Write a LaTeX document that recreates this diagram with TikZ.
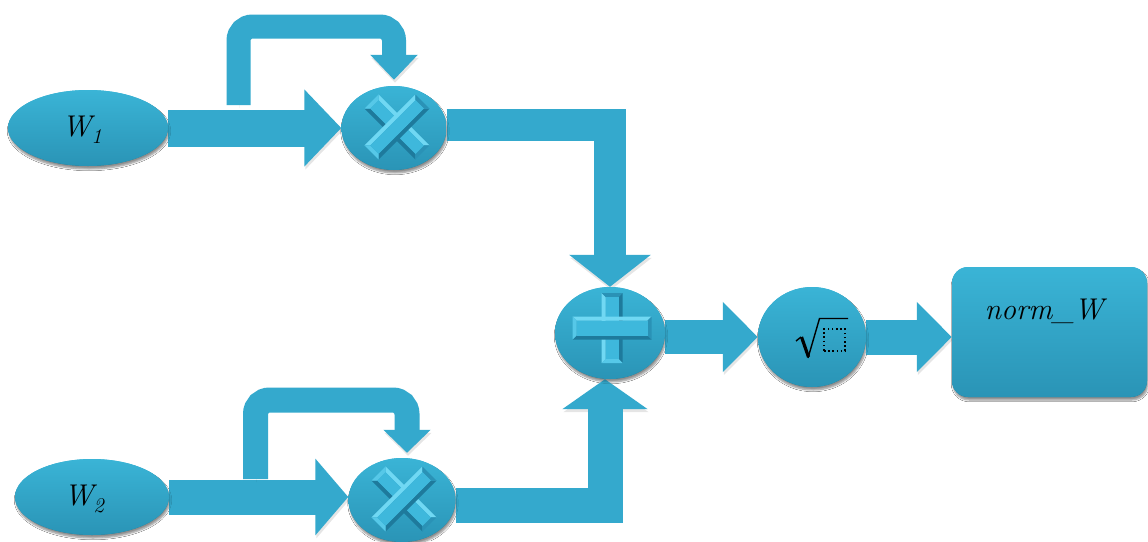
\documentclass[tikz,border=0pt]{standalone}
\usepackage{fontspec}
\usetikzlibrary{shapes.geometric,shadows.blur,arrows.meta}

\definecolor{flowblue}{RGB}{52,169,205}
\definecolor{nodetop}{RGB}{58,180,214}
\definecolor{nodebot}{RGB}{42,148,182}
\definecolor{glyphface}{RGB}{62,184,220}
\definecolor{glyphlite}{RGB}{112,216,243}
\definecolor{glyphedge}{RGB}{86,200,232}
\definecolor{glyphshade}{RGB}{42,146,182}
\definecolor{glyphdark}{RGB}{30,122,156}

\newcommand{\subidx}[1]{\raisebox{-7pt}{\fontsize{21}{24}\selectfont #1}}
% bevelled bar centred at the origin: half length, half height, bevel width
\newcommand{\bevelbar}[3]{%
  \fill[glyphlite] (-#1,-#2) -- (#1,-#2) -- (#1-#3,-#2+#3) -- (-#1+#3,-#2+#3) -- cycle;
  \fill[glyphdark] (-#1,#2) -- (#1,#2) -- (#1-#3,#2-#3) -- (-#1+#3,#2-#3) -- cycle;
  \fill[glyphedge] (-#1,-#2) -- (-#1+#3,-#2+#3) -- (-#1+#3,#2-#3) -- (-#1,#2) -- cycle;
  \fill[glyphshade] (#1,-#2) -- (#1-#3,-#2+#3) -- (#1-#3,#2-#3) -- (#1,#2) -- cycle;
  \fill[glyphface] (-#1+#3,-#2+#3) rectangle (#1-#3,#2-#3);
}

\tikzset{
  nodebody/.style={top color=nodetop, bottom color=nodebot, inner sep=0pt,
    blur shadow={shadow xshift=1pt, shadow yshift=-3pt, shadow opacity=25, shadow blur steps=6}},
  ovalnode/.style={nodebody, ellipse},
  boxnode/.style={nodebody, rectangle, rounded corners=16pt},
  band/.style={draw=flowblue,
    preaction={draw=black, opacity=0.10, transform canvas={shift={(1pt,-3pt)}}}},
  lbl/.style={font=\fontsize{30}{36}\selectfont\itshape, text=black, inner sep=0pt},
  pics/timesmark/.style={code={
    \begin{scope}[rotate=-45]\bevelbar{36}{10}{4}\end{scope}
    \begin{scope}[rotate=45]\bevelbar{36}{10}{4}\end{scope}
  }},
  pics/plusmark/.style={code={
    \begin{scope}[rotate=90]\bevelbar{35}{10.5}{4}\end{scope}
    \bevelbar{39.5}{11.5}{4}
  }}
}

\begin{document}
\begin{tikzpicture}[x=1pt, y=-1pt]
  \fill[white] (0,0) rectangle (1148,541);
  \useasboundingbox (0,0) rectangle (1148,541);

  % operand ovals
  \node[ovalnode, minimum width=160pt, minimum height=76pt] (w1) at (88,128) {};
  \node[ovalnode, minimum width=154pt, minimum height=76pt] (w2) at (92,497) {};
  % operators
  \node[ovalnode, minimum width=105pt, minimum height=84pt] (m1) at (394,128) {};
  \node[ovalnode, minimum width=107pt, minimum height=84pt] (m2) at (402,500) {};
  \node[ovalnode, minimum width=110pt, minimum height=92pt] (plus) at (610,333) {};
  \node[ovalnode, minimum width=108pt, minimum height=100pt] (sq) at (812,337) {};
  % result
  \node[boxnode, minimum width=195pt, minimum height=130pt] (out) at (1049.5,332) {};

  % free ends of the feedback arrows
  \coordinate (fb1) at (238.5,105);
  \coordinate (fb1top) at (0,26.5);
  \coordinate (fb2) at (255.5,479);
  \coordinate (fb2top) at (0,400);

  % inputs into the multipliers
  \draw[band, line width=37pt, -{Triangle[width=75pt,length=37pt]}] (w1.east) -- (m1.west |- w1.east);
  \draw[band, line width=35pt, -{Triangle[width=75pt,length=33pt]}] (w2.east) -- (m2.west |- w2.east);
  % squaring loops
  \draw[band, line width=24pt, rounded corners=14pt, -{Triangle[width=46pt,length=25pt]}, shorten >=6pt]
    (fb1) |- (m1.north |- fb1top) -- (m1.north);
  \draw[band, line width=25pt, rounded corners=14pt, -{Triangle[width=46pt,length=23pt]}, shorten >=5pt]
    (fb2) |- ([xshift=5pt]m2.north |- fb2top) -- ([xshift=5pt]m2.north);
  % products into the adder
  \draw[band, line width=32pt, -{Triangle[width=80pt,length=32pt]}] ([yshift=3pt]m1.east) -| (plus.north);
  \draw[band, line width=35pt, -{Triangle[width=84pt,length=30pt]}] ([yshift=-5pt]m2.east) -| ([xshift=-5pt]plus.south);
  % sum into the root, root into the result
  \draw[band, line width=34pt, -{Triangle[width=68pt,length=35pt]}] (plus.east |- sq.west) -- (sq.west);
  \draw[band, line width=35pt, -{Triangle[width=68pt,length=35pt]}] (sq.east) -- (out.west |- sq.east);

  % redraw node bodies above the arrow ends
  \node[ovalnode, minimum width=105pt, minimum height=84pt] at (m1) {};
  \node[ovalnode, minimum width=107pt, minimum height=84pt] at (m2) {};
  \node[ovalnode, minimum width=110pt, minimum height=92pt] at (plus) {};
  \node[ovalnode, minimum width=108pt, minimum height=100pt] at (sq) {};
  \node[ovalnode, minimum width=160pt, minimum height=76pt] at (w1) {};
  \node[ovalnode, minimum width=154pt, minimum height=76pt] at (w2) {};
  \node[boxnode, minimum width=195pt, minimum height=130pt] at (out) {};

  % operator glyphs
  \pic at (397,127) {timesmark};
  \pic at (404,499) {timesmark};
  \pic at (612,328) {plusmark};

  % radical sign with a dotted placeholder
  \draw[line width=1.4pt] (796,341) -- (801,337);
  \draw[line width=3.2pt] (801.5,337) -- (808.5,357);
  \draw[line width=1.4pt] (808,358) -- (819.5,318.5) -- (848,318.5);
  \node[draw=black, line width=1.6pt, dash pattern=on 1.6pt off 2.6pt, minimum width=21pt, minimum height=22pt, inner sep=0pt] (ph) at (834.5,340) {};

  % labels
  \node[lbl] (w1txt) at (82,130) {W\subidx{1}};
  \node[lbl] (w2txt) at (84,499) {W\subidx{2}};
  \node[lbl] (outtxt) at (1044,311) {norm\_W};
\end{tikzpicture}
\end{document}
